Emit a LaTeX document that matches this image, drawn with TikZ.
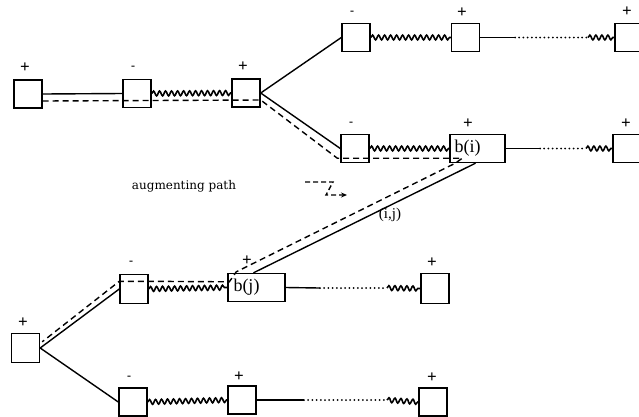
\documentclass[tikz,border=0pt]{standalone}
\usepackage{fontspec}
\setmainfont{Liberation Serif}
\newfontfamily\legendfont{DejaVu Serif}
\usetikzlibrary{decorations.pathmorphing,arrows.meta,calc}
\begin{document}
\begin{tikzpicture}[x=1pt,y=-1pt,
 box/.style={draw, line width=1.4pt, minimum width=28pt, minimum height=28pt, inner sep=0pt},
 widebox/.style={box, minimum width=55pt, text width=46pt, align=left, font=\fontsize{18}{18}\selectfont},
 sign/.style={font=\fontsize{17}{17}\selectfont\bfseries, inner sep=0pt},
 minus/.style={font=\fontsize{12}{12}\selectfont\bfseries, inner sep=0pt},
 wavy/.style={line width=1.6pt, decorate, decoration={snake, amplitude=2.4pt, segment length=6pt}},
 edge/.style={line width=1.4pt},
 dots/.style={line width=2pt, line cap=round, dash pattern=on 0pt off 4.2pt},
 aug/.style={line width=1.4pt, dash pattern=on 6pt off 4pt}]
\useasboundingbox (0,0) rectangle (639,416);

% boxes
\node[box] (A) at (28,94) {};
\node[box] (B) at (137,93.5) {};
\node[box] (C) at (246,93) {};
\node[box] (D) at (356,37.5) {};
\node[box] (E) at (465.5,37.5) {};
\node[box] (F) at (629,37.5) {};
\node[box] (G) at (355,148.5) {};
\node[widebox] (H) at (477.5,148.5) {b(i)};
\node[box] (I) at (627,148.5) {};
\node[box, minimum height=29pt] (J) at (134,289) {};
\node[widebox, minimum width=57pt] (K) at (256.5,287.5) {b(j)};
\node[box, minimum height=30pt] (L) at (435,288.5) {};
\node[box, minimum height=29pt] (M) at (25.5,348) {};
\node[box] (N) at (133,402) {};
\node[box] (O) at (242,400) {};
\node[box] (P) at (433,402) {};

% signs
\node[sign] (sA) at (25,68) {+};
\node[minus] (sB) at (133,68) {-};
\node[sign] (sC) at (243,67) {+};
\node[minus] (sD) at (352,13) {-};
\node[sign] (sE) at (462,13) {+};
\node[sign] (sF) at (627,12) {+};
\node[minus] (sG) at (351,124) {-};
\node[sign] (sH) at (468,124) {+};
\node[sign] (sI) at (626,124) {+};
\node[minus] (sJ) at (131,263) {-};
\node[sign] (sK) at (247,261) {+};
\node[sign] (sL) at (432,263) {+};
\node[sign] (sM) at (23,323) {+};
\node[minus] (sN) at (129,378) {-};
\node[sign] (sO) at (239,377) {+};
\node[sign] (sP) at (432,378) {+};

% texts
\node[font=\legendfont\fontsize{12}{12}\selectfont, inner sep=0pt] (leg) at (184,186) {augmenting path};
\node[font=\fontsize{15}{15}\selectfont, inner sep=0pt] (ij) at (390,215) {(i,j)};

% top tree
\draw[edge] (A.east) -- (B.west);
\draw[wavy] (B.east) -- (C.west);
\draw[edge] (C.east) -- (D.west);
\draw[edge] (C.east) -- (G.west);
\draw[wavy] (D.east) -- (E.west);
\coordinate (e1) at (515,37.5);
\coordinate (e2) at (588,37.5);
\draw[edge] (E.east) -- (e1);
\draw[dots] (e1) -- (e2);
\draw[wavy] (e2) -- (F.west);
\draw[wavy] (G.east) -- (H.west);
\coordinate (h1) at (540,148.5);
\coordinate (h2) at (586,148.5);
\draw[edge] (H.east) -- (h1);
\draw[dots] (h1) -- (h2);
\draw[wavy] (h2) -- (I.west);

% (i,j) edge
\draw[edge] ($(H.south)+(-2,0)$) -- ($(K.north)+(-3,0)$);

% bottom tree
\draw[edge] (M.east) -- (J.west);
\draw[edge] (M.east) -- (N.west);
\draw[wavy] (J.east) -- (K.west);
\coordinate (k1) at (320,288);
\coordinate (k2) at (387,288);
\draw[edge] (K.east) -- (k1);
\draw[dots] (k1) -- (k2);
\draw[wavy] (k2) -- (L.west);
\draw[wavy] (N.east) -- (O.west);
\coordinate (o1) at (304,400);
\coordinate (o2) at (387,400);
\draw[edge] (O.east) -- (o1);
\draw[dots] (o1) -- (o2);
\draw[wavy] (o2) -- (P.west);

% augmenting path
\draw[aug] ($(A.east)+(0,7)$) -- ($(C.east)+(0,7)$) -- ($(G.south west)+(-3,-5)$)
  -- ($(H.south west)+(13,-5)$) -- ($(H.south west)+(6,0)$)
  -- ($(K.north west)+(9,-1)$) -- ($(K.north west)+(2,9)$)
  -- ($(J.north east)+(0,7.5)$) -- ($(J.north west)+(0,7.5)$)
  -- ($(M.north east)+(2,9)$);

% legend arrow
\coordinate (l1) at (305,182);
\coordinate (l2) at (333,182);
\coordinate (l3) at (326,195);
\coordinate (l4) at (347,195);
\draw[aug, dash pattern=on 5pt off 3pt, -{Stealth[length=6pt,width=5pt]}] (l1) -- (l2) -- (l3) -- (l4);
\end{tikzpicture}
\end{document}
